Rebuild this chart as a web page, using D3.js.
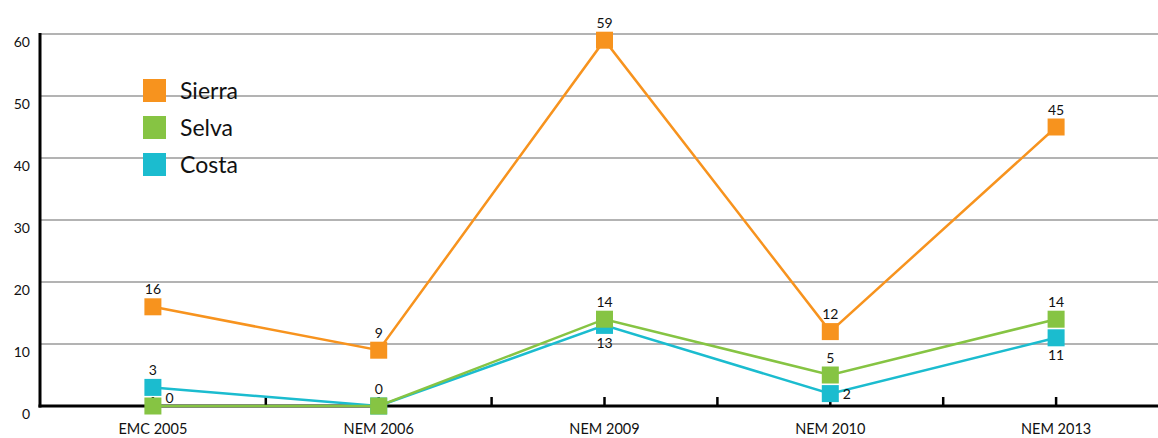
<!DOCTYPE html>
<html>
<head>
<meta charset="utf-8">
<script src="https://cdn.jsdelivr.net/npm/d3@7"></script>
<style>
  html, body { margin: 0; padding: 0; background: #fff; }
  svg { display: block; font-family: Lato, "Open Sans", sans-serif; }
</style>
</head>
<body>
<svg id="chart" width="1158" height="438"></svg>
<script>
const categories = ["EMC 2005", "NEM 2006", "NEM 2009", "NEM 2010", "NEM 2013"];
const sierra = [16, 9, 59, 12, 45];
const selva  = [0, 0, 14, 5, 14];
const costa  = [3, 0, 13, 2, 11];
const yTicks = [0, 10, 20, 30, 40, 50, 60];
const seriesNames = ["Sierra", "Selva", "Costa"];

const colors = { Sierra: "#f7931e", Selva: "#86c443", Costa: "#1bbccf" };
const labelPos = {
  Sierra: ["above", "above", "above", "above", "above"],
  Selva:  ["right", "above", "above", "above", "above"],
  Costa:  ["above", "center", "below", "right", "below"]
};

const svg = d3.select("#chart");
const plotLeft = 40, plotRight = 1158, plotTop = 34, plotBottom = 406;

const x = d3.scaleBand().domain(categories).range([40, 1169]).padding(0);
const bw = x.bandwidth();
const cx = c => x(c) + bw / 2;
const y = d3.scaleLinear().domain([0, 60]).range([plotBottom, plotTop]);

// gridlines
svg.append("g").selectAll("line").data(yTicks.filter(t => t > 0)).join("line")
  .attr("x1", plotLeft).attr("x2", plotRight)
  .attr("y1", d => y(d)).attr("y2", d => y(d))
  .attr("stroke", "#9a9a9a").attr("stroke-width", 1.5);

// y tick labels
svg.append("g").selectAll("text").data(yTicks).join("text")
  .attr("x", 30).attr("y", d => y(d) + 13)
  .attr("text-anchor", "end")
  .attr("font-size", 14).attr("fill", "#111")
  .text(d => d);

// x ticks (category centres and boundaries)
const tickXs = [];
categories.forEach((c, i) => { if (i > 0) tickXs.push(x(c)); tickXs.push(cx(c)); });
svg.append("g").selectAll("line").data(tickXs).join("line")
  .attr("x1", d => d).attr("x2", d => d)
  .attr("y1", plotBottom).attr("y2", plotBottom - 9)
  .attr("stroke", "#000").attr("stroke-width", 2.5);

// axes lines
svg.append("line").attr("x1", plotLeft).attr("x2", plotLeft).attr("y1", plotTop - 1).attr("y2", plotBottom + 1.5)
  .attr("stroke", "#000").attr("stroke-width", 3);
svg.append("line").attr("x1", plotLeft - 1.5).attr("x2", plotRight).attr("y1", plotBottom).attr("y2", plotBottom)
  .attr("stroke", "#000").attr("stroke-width", 3);

// x labels
svg.append("g").selectAll("text").data(categories).join("text")
  .attr("x", d => cx(d)).attr("y", 434)
  .attr("text-anchor", "middle")
  .attr("font-size", 14.5).attr("fill", "#111")
  .text(d => d);

const dataMap = { Sierra: sierra, Selva: selva, Costa: costa };
const drawOrder = ["Sierra", "Costa", "Selva"];
const line = d3.line().x(d => cx(d.c)).y(d => y(d.v));
const ms = 17;

drawOrder.forEach(name => {
  const pts = categories.map((c, i) => ({ c, v: dataMap[name][i], pos: labelPos[name][i] }));
  const g = svg.append("g");
  g.append("path").datum(pts).attr("d", line)
    .attr("fill", "none").attr("stroke", colors[name]).attr("stroke-width", 2.5);
  g.selectAll("rect").data(pts).join("rect")
    .attr("x", d => cx(d.c) - ms / 2).attr("y", d => y(d.v) - ms / 2)
    .attr("width", ms).attr("height", ms)
    .attr("fill", colors[name]);
  g.selectAll("text").data(pts).join("text")
    .attr("x", d => d.pos === "right" ? cx(d.c) + ms / 2 + 4 : cx(d.c))
    .attr("y", d => d.pos === "above" ? y(d.v) - ms / 2 - 4
                  : d.pos === "below" ? y(d.v) + ms / 2 + 14
                  : d.pos === "center" ? y(d.v) + 3
                  : y(d.v) + 5 - (d.v === 0 ? 8 : 0))
    .attr("text-anchor", d => d.pos === "right" ? "start" : "middle")
    .attr("font-size", 14).attr("fill", "#111")
    .text(d => d.v);
});

// legend
const leg = svg.append("g");
seriesNames.forEach((name, i) => {
  const ly = 79 + i * 37;
  leg.append("rect").attr("x", 143).attr("y", ly).attr("width", 23).attr("height", 23)
    .attr("fill", colors[name]);
  leg.append("text").attr("x", 180).attr("y", ly + 20)
    .attr("font-size", 23).attr("fill", "#111").text(name);
});
</script>
</body>
</html>
